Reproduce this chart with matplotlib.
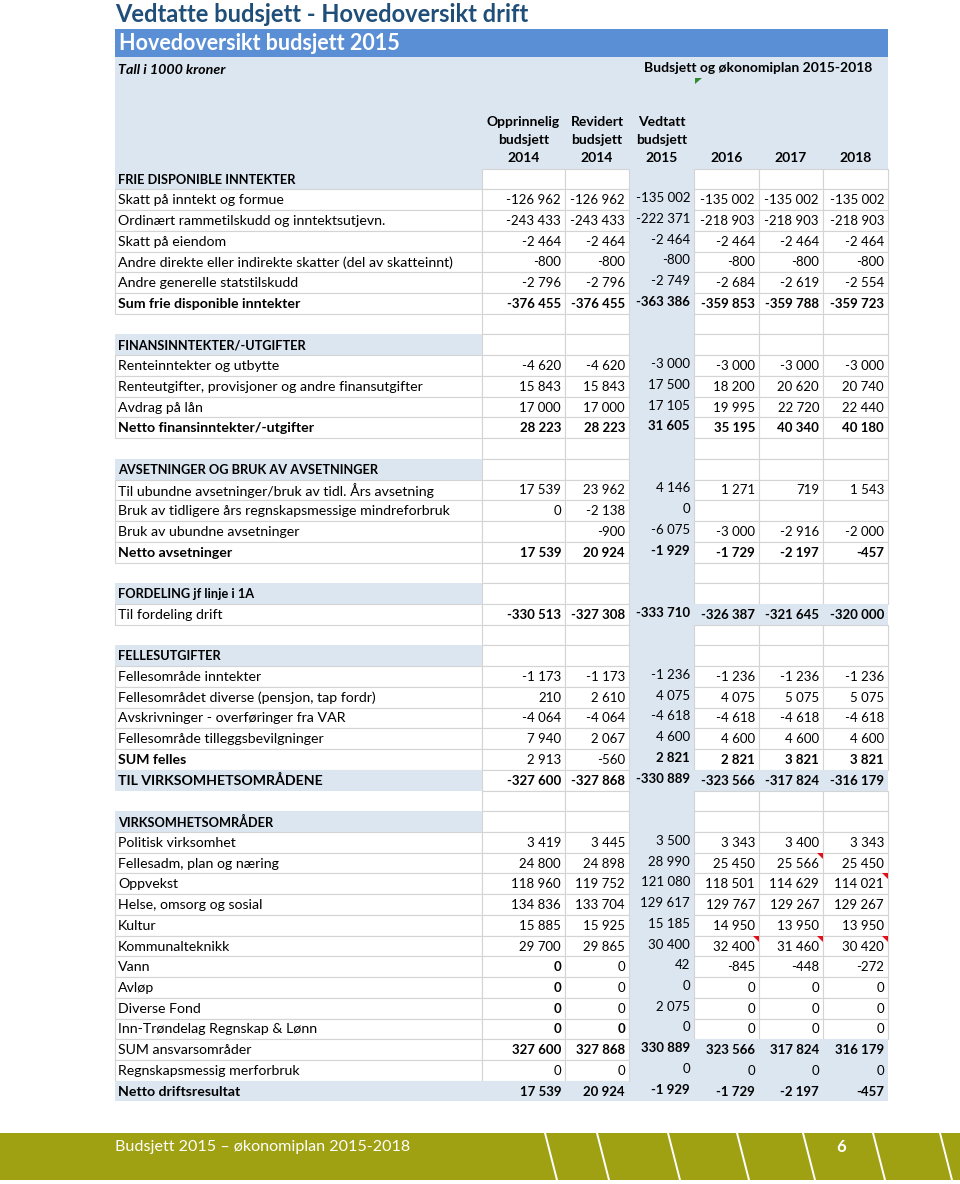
import matplotlib
matplotlib.use("Agg")
import matplotlib.pyplot as plt
from matplotlib.patches import Rectangle, Polygon

plt.rcParams['font.family'] = ['Lato', 'DejaVu Sans']

# Tall i 1000 kroner
header_lines = [["Opprinnelig", "budsjett", "2014"],
                ["Revidert", "budsjett", "2014"],
                ["Vedtatt", "budsjett", "2015"],
                ["2016"], ["2017"], ["2018"]]

frie_labels = ["Skatt på inntekt og formue",
               "Ordinært rammetilskudd og inntektsutjevn.",
               "Skatt på eiendom",
               "Andre direkte eller indirekte skatter (del av skatteinnt)",
               "Andre generelle statstilskudd",
               "Sum frie disponible inntekter"]
frie_values = [[-126962, -126962, -135002, -135002, -135002, -135002],
               [-243433, -243433, -222371, -218903, -218903, -218903],
               [-2464, -2464, -2464, -2464, -2464, -2464],
               [-800, -800, -800, -800, -800, -800],
               [-2796, -2796, -2749, -2684, -2619, -2554],
               [-376455, -376455, -363386, -359853, -359788, -359723]]

fin_labels = ["Renteinntekter og utbytte",
              "Renteutgifter, provisjoner og andre finansutgifter",
              "Avdrag på lån",
              "Netto finansinntekter/-utgifter"]
fin_values = [[-4620, -4620, -3000, -3000, -3000, -3000],
              [15843, 15843, 17500, 18200, 20620, 20740],
              [17000, 17000, 17105, 19995, 22720, 22440],
              [28223, 28223, 31605, 35195, 40340, 40180]]

avs_labels = ["Til ubundne avsetninger/bruk av tidl. Års avsetning",
              "Bruk av tidligere års regnskapsmessige mindreforbruk",
              "Bruk av ubundne avsetninger",
              "Netto avsetninger"]
avs_values = [[17539, 23962, 4146, 1271, 719, 1543],
              [0, -2138, 0, None, None, None],
              [None, -900, -6075, -3000, -2916, -2000],
              [17539, 20924, -1929, -1729, -2197, -457]]

ford_labels = ["Til fordeling drift"]
ford_values = [[-330513, -327308, -333710, -326387, -321645, -320000]]

felles_labels = ["Fellesområde inntekter",
                 "Fellesområdet diverse (pensjon, tap fordr)",
                 "Avskrivninger - overføringer fra VAR",
                 "Fellesområde tilleggsbevilgninger",
                 "SUM felles",
                 "TIL VIRKSOMHETSOMRÅDENE"]
felles_values = [[-1173, -1173, -1236, -1236, -1236, -1236],
                 [210, 2610, 4075, 4075, 5075, 5075],
                 [-4064, -4064, -4618, -4618, -4618, -4618],
                 [7940, 2067, 4600, 4600, 4600, 4600],
                 [2913, -560, 2821, 2821, 3821, 3821],
                 [-327600, -327868, -330889, -323566, -317824, -316179]]

virk_labels = ["Politisk virksomhet", "Fellesadm, plan og næring", "Oppvekst",
               "Helse, omsorg og sosial", "Kultur", "Kommunalteknikk", "Vann",
               "Avløp", "Diverse Fond", "Inn-Trøndelag Regnskap & Lønn",
               "SUM ansvarsområder", "Regnskapsmessig merforbruk",
               "Netto driftsresultat"]
virk_values = [[3419, 3445, 3500, 3343, 3400, 3343],
               [24800, 24898, 28990, 25450, 25566, 25450],
               [118960, 119752, 121080, 118501, 114629, 114021],
               [134836, 133704, 129617, 129767, 129267, 129267],
               [15885, 15925, 15185, 14950, 13950, 13950],
               [29700, 29865, 30400, 32400, 31460, 30420],
               [0, 0, 42, -845, -448, -272],
               [0, 0, 0, 0, 0, 0],
               [0, 0, 2075, 0, 0, 0],
               [0, 0, 0, 0, 0, 0],
               [327600, 327868, 330889, 323566, 317824, 316179],
               [0, 0, 0, 0, 0, 0],
               [17539, 20924, -1929, -1729, -2197, -457]]

sections = [("FRIE DISPONIBLE INNTEKTER", frie_labels, frie_values),
            ("FINANSINNTEKTER/-UTGIFTER", fin_labels, fin_values),
            ("AVSETNINGER OG BRUK AV AVSETNINGER", avs_labels, avs_values),
            ("FORDELING jf linje i 1A", ford_labels, ford_values),
            ("FELLESUTGIFTER", felles_labels, felles_values),
            ("VIRKSOMHETSOMRÅDER", virk_labels, virk_values)]

# formatting of special rows
all_cols = [0, 1, 2, 3, 4, 5]
bold_labels = {"Sum frie disponible inntekter", "Netto finansinntekter/-utgifter",
               "Netto avsetninger", "SUM felles", "TIL VIRKSOMHETSOMRÅDENE",
               "Netto driftsresultat"}
bold_values = {"Sum frie disponible inntekter": all_cols,
               "Netto finansinntekter/-utgifter": all_cols,
               "Netto avsetninger": all_cols,
               "Til fordeling drift": all_cols,
               "SUM felles": [2, 3, 4, 5],
               "TIL VIRKSOMHETSOMRÅDENE": all_cols,
               "Vann": [0], "Avløp": [0], "Diverse Fond": [0],
               "Inn-Trøndelag Regnskap & Lønn": [0, 1],
               "SUM ansvarsområder": all_cols,
               "Netto driftsresultat": all_cols}
blue_labels = {"TIL VIRKSOMHETSOMRÅDENE", "Netto driftsresultat"}
blue_values = {"Til fordeling drift": [3, 4, 5],
               "TIL VIRKSOMHETSOMRÅDENE": [3, 4, 5],
               "SUM ansvarsområder": [3, 4, 5],
               "Regnskapsmessig merforbruk": [3, 4, 5],
               "Netto driftsresultat": [0, 1, 3, 4, 5]}
notes_red = [("Fellesadm, plan og næring", 4), ("Oppvekst", 5),
             ("Kommunalteknikk", 3), ("Kommunalteknikk", 4), ("Kommunalteknikk", 5)]

# build the list of rows
rows = []
for k, (title, labels, values) in enumerate(sections):
    if k > 0:
        rows.append(("blank", "", None))
    rows.append(("title", title, None))
    for lab, vals in zip(labels, values):
        rows.append(("data", lab, vals))

BLUE = "#dce6f1"
BAND = "#5b8fd5"
GRID = "#d4d4d4"
DARK = "#1f4e79"
OLIVE = "#9fa112"

col_x = [115, 482, 565, 629, 694, 759, 823, 888]
first_y = 179
row_h = 20.73
top = first_y - row_h / 2
FS_LABEL = 10.2
FS_TITLE = 9.2
FS_NUM = 9.5

def fmt(v):
    return f"{v:,}".replace(",", " ")

fig = plt.figure(figsize=(9.6, 11.84), dpi=100)
ax = fig.add_axes([0, 0, 1, 1])
ax.set_xlim(0, 960)
ax.set_ylim(1184, 0)
ax.axis('off')

# title + banners
ax.text(115, 14, "Vedtatte budsjett - Hovedoversikt drift", fontsize=17, fontweight='bold',
        color=DARK, va='center', ha='left')
ax.add_patch(Rectangle((115, 29), col_x[-1] - 115, 28, color=BAND, lw=0))
ax.text(119, 43.5, "Hovedoversikt budsjett 2015", fontsize=15.5, fontweight='bold',
        color='white', va='center')
ax.add_patch(Rectangle((115, 57), col_x[-1] - 115, top - 57, color=BLUE, lw=0))
ax.text(118, 70, "Tall i 1000 kroner", fontsize=10.3, fontweight='bold', style='italic', va='center')
ax.text(758, 68, "Budsjett og økonomiplan 2015-2018", fontsize=10, fontweight='bold',
        va='center', ha='center')
ax.add_patch(Polygon([(695, 78), (702, 78), (695, 84)], color='#2e8b2e', lw=0))

for j, lines in enumerate(header_lines):
    cx = (col_x[j + 1] + col_x[j + 2]) / 2
    for n, line in enumerate(reversed(lines)):
        ax.text(cx, 158 - n * 18, line, fontsize=10, fontweight='bold', ha='center', va='center')

# Vedtatt 2015 column is shaded all the way down
ax.add_patch(Rectangle((col_x[3], top), col_x[4] - col_x[3], len(rows) * row_h, color=BLUE, lw=0))

for i, (kind, label, vals) in enumerate(rows):
    y0 = top + i * row_h
    yc = first_y + i * row_h
    # label cell
    if kind == "title" or label in blue_labels:
        ax.add_patch(Rectangle((col_x[0], y0), col_x[1] - col_x[0], row_h, color=BLUE, lw=0))
    elif kind == "data":
        ax.add_patch(Rectangle((col_x[0], y0), col_x[1] - col_x[0], row_h,
                               facecolor='white', edgecolor=GRID, lw=0.8))
    # value cells
    for j in range(6):
        x0, x1 = col_x[j + 1], col_x[j + 2]
        if j == 2:
            continue
        if j in blue_values.get(label, []):
            ax.add_patch(Rectangle((x0, y0), x1 - x0, row_h, color=BLUE, lw=0))
        else:
            ax.add_patch(Rectangle((x0, y0), x1 - x0, row_h,
                                   facecolor='white', edgecolor=GRID, lw=0.8))
    if kind == "blank":
        continue
    if kind == "title":
        ax.text(118, yc + 0.5, label, fontsize=FS_TITLE, fontweight='bold', va='center', ha='left')
    else:
        lw = 'bold' if label in bold_labels else 'normal'
        ax.text(118, yc + 0.5, label, fontsize=FS_LABEL, fontweight=lw, va='center', ha='left')
    if vals is None:
        continue
    for j, v in enumerate(vals):
        if v is None:
            continue
        w = 'bold' if j in bold_values.get(label, []) else 'normal'
        dy = -1.5 if j == 2 else 0.5
        ax.text(col_x[j + 2] - 4, yc + dy, fmt(v), fontsize=FS_NUM, fontweight=w,
                va='center', ha='right')

# comment markers
for lab, j in notes_red:
    i = [r[1] for r in rows].index(lab)
    y0 = top + i * row_h
    xr = col_x[j + 2]
    ax.add_patch(Polygon([(xr - 6, y0), (xr, y0), (xr, y0 + 6)], color='#e0101a', lw=0))

# footer band
ax.add_patch(Rectangle((0, 1133), 960, 47, color=OLIVE, lw=0))
ax.text(115, 1147, "Budsjett 2015 \u2013 økonomiplan 2015-2018", fontsize=11.6, color='white',
        va='center', ha='left')
ax.text(841, 1147, "6", fontsize=12, color='white', fontweight='bold', va='center', ha='center')
for xs in [545, 597, 668, 737, 803, 873, 940]:
    ax.plot([xs, xs + 12], [1133, 1180], color='white', lw=1.4)

fig.savefig("out.png", dpi=100)
